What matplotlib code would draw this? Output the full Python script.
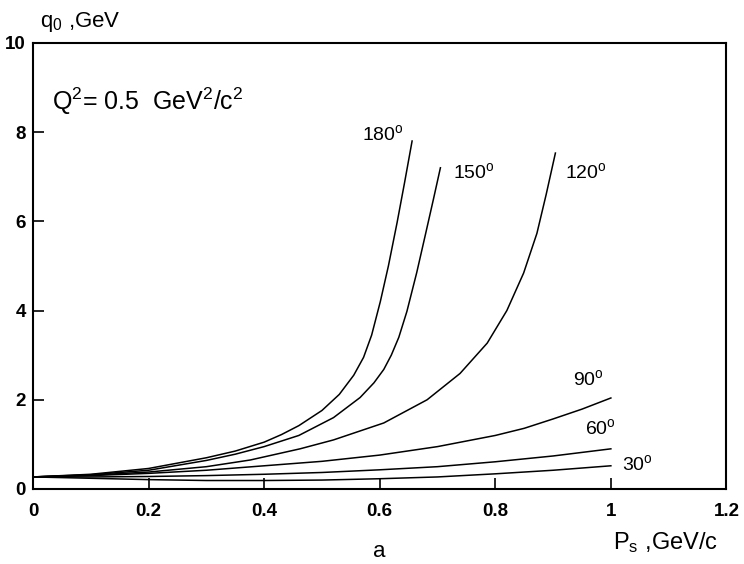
import numpy as np
import matplotlib
matplotlib.use("Agg")
import matplotlib.pyplot as plt

plt.rcParams['font.family'] = ['Liberation Sans', 'DejaVu Sans']
plt.rcParams['mathtext.fontset'] = 'custom'
plt.rcParams['mathtext.rm'] = 'Liberation Sans'
plt.rcParams['mathtext.it'] = 'Liberation Sans'

# DATA
x180 = [0, 0.1, 0.2, 0.3, 0.35, 0.4, 0.43, 0.46, 0.5, 0.53, 0.555, 0.572, 0.586, 0.601, 0.615, 0.63, 0.643, 0.656]
y180 = [0.27, 0.33, 0.46, 0.7, 0.85, 1.05, 1.22, 1.42, 1.76, 2.12, 2.55, 2.95, 3.45, 4.2, 5.0, 5.97, 6.87, 7.8]

x150 = [0, 0.1, 0.2, 0.3, 0.35, 0.4, 0.46, 0.52, 0.566, 0.59, 0.607, 0.62, 0.633, 0.647, 0.664, 0.679, 0.693, 0.705]
y150 = [0.27, 0.32, 0.42, 0.64, 0.78, 0.95, 1.2, 1.6, 2.05, 2.38, 2.68, 3.0, 3.4, 3.98, 4.85, 5.7, 6.5, 7.2]

x120 = [0, 0.1, 0.2, 0.3, 0.376, 0.462, 0.52, 0.607, 0.682, 0.739, 0.786, 0.82, 0.849, 0.872, 0.888, 0.904]
y120 = [0.27, 0.31, 0.38, 0.5, 0.65, 0.9, 1.1, 1.48, 2.0, 2.59, 3.27, 4.0, 4.84, 5.73, 6.6, 7.53]

x90 = [0, 0.1, 0.2, 0.3, 0.4, 0.5, 0.6, 0.7, 0.8, 0.85, 0.9, 0.95, 1.0]
y90 = [0.27, 0.3, 0.35, 0.42, 0.52, 0.62, 0.76, 0.95, 1.2, 1.36, 1.57, 1.79, 2.04]

x60 = [0, 0.1, 0.2, 0.3, 0.4, 0.5, 0.6, 0.7, 0.8, 0.9, 1.0]
y60 = [0.27, 0.27, 0.28, 0.3, 0.33, 0.37, 0.43, 0.5, 0.61, 0.74, 0.9]

x30 = [0, 0.1, 0.2, 0.3, 0.4, 0.5, 0.6, 0.7, 0.8, 0.9, 1.0]
y30 = [0.27, 0.24, 0.21, 0.19, 0.19, 0.2, 0.23, 0.27, 0.34, 0.42, 0.52]

curves = [(x180, y180), (x150, y150), (x120, y120), (x90, y90), (x60, y60), (x30, y30)]
labels = ['180', '150', '120', '90', '60', '30']
label_pos = [(0.570, 7.83), (0.727, 6.98), (0.921, 6.98), (0.935, 2.33), (0.956, 1.23), (1.02, 0.43)]

xticks = [0, 0.2, 0.4, 0.6, 0.8, 1, 1.2]
xticklabels = ['0', '0.2', '0.4', '0.6', '0.8', '1', '1.2']
yticks = [0, 2, 4, 6, 8, 10]

fig = plt.figure(figsize=(7.44, 5.64), dpi=100)
ax = fig.add_axes([0.0444, 0.133, 0.932, 0.791])

for (xs, ys) in curves:
    ax.plot(xs, ys, color='black', lw=1.1, solid_joinstyle='round')

for lab, (lx, ly) in zip(labels, label_pos):
    ax.text(lx, ly, lab + r'$^{\mathrm{o}}$', fontsize=14, ha='left', va='baseline')

ax.text(0.033, 8.5, r'Q$^2$= 0.5  GeV$^2$/c$^2$', fontsize=18, ha='left', va='baseline')

ax.set_xlim(0, 1.2)
ax.set_ylim(0, 10)
ax.set_xticks(xticks)
ax.set_xticklabels(xticklabels)
ax.set_yticks(yticks)
ax.tick_params(direction='in', length=8, width=1.2, labelsize=13.5)
ax.tick_params(axis='x', pad=10)
ax.tick_params(axis='y', pad=5)
for lab in ax.get_xticklabels() + ax.get_yticklabels():
    lab.set_fontweight('bold')
for sp in ax.spines.values():
    sp.set_linewidth(1.5)

fig.text(40 / 744, 1 - 27 / 564, r'q$_{\mathrm{0}}$ ,GeV', fontsize=16, ha='left', va='baseline')
fig.text(613 / 744, 1 - 549 / 564, r'P$_{\mathrm{s}}$ ,GeV/c', fontsize=17, ha='left', va='baseline')
fig.text(373 / 744, 1 - 557 / 564, 'a', fontsize=16, ha='left', va='baseline')

fig.savefig('out.png', dpi=100)
